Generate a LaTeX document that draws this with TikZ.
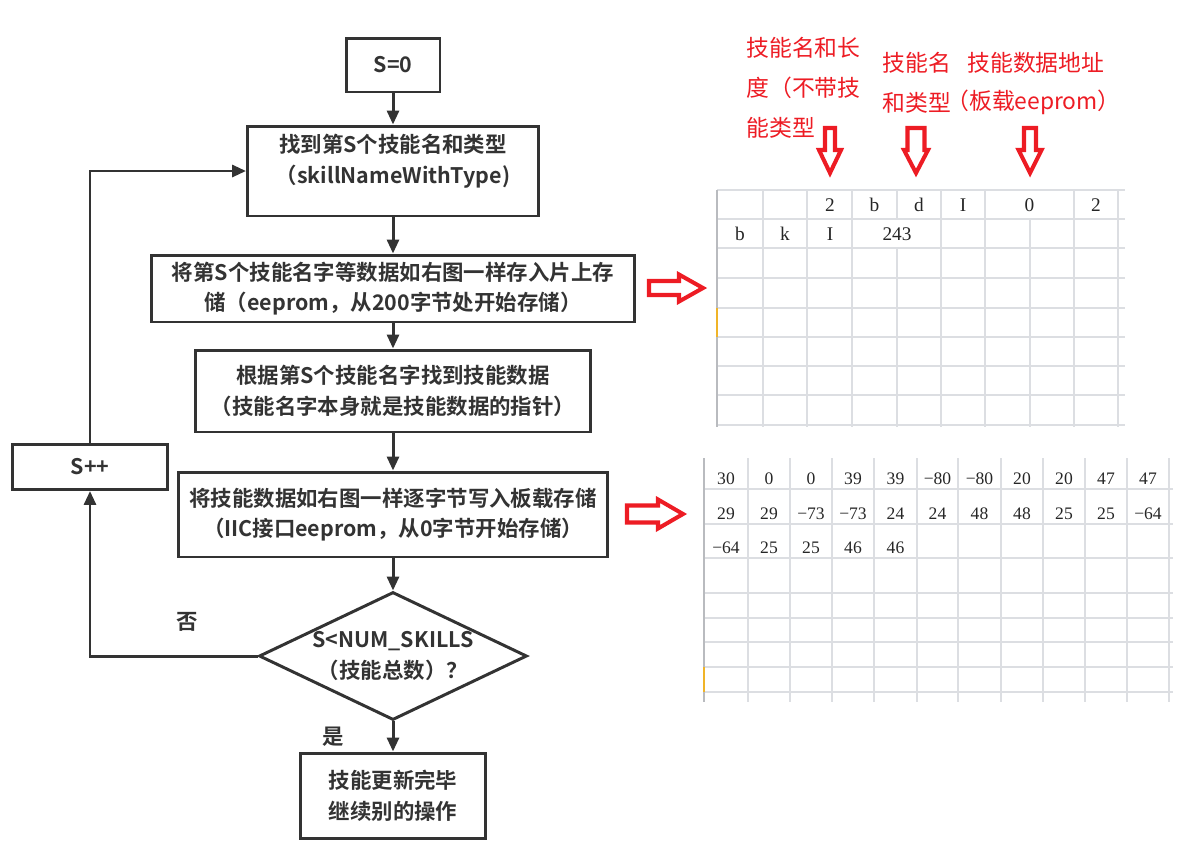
\documentclass[tikz,border=0pt]{standalone}
\usepackage{fontspec}
\usetikzlibrary{shapes.geometric, arrows.meta, positioning}
\newfontfamily\cjk{Noto Sans CJK SC}[BoldFont={* Bold}]
\newfontfamily\cellfont{Liberation Serif}
\definecolor{linegray}{RGB}{51,51,51}
\definecolor{notered}{RGB}{237,28,36}
\definecolor{gridgray}{RGB}{220,222,226}
\definecolor{edgegray}{RGB}{185,187,191}
\definecolor{markyellow}{RGB}{240,180,40}

\begin{document}
\begin{tikzpicture}[x=0.02cm, y=-0.02cm,
        box/.style={draw=linegray, line width=1.7pt, text=linegray, inner sep=0pt,
                    font=\cjk\bfseries\fontsize{12.2}{17.5}\selectfont, align=center},
        decision/.style={box, diamond, aspect=2.1},
        arrow/.style={-{Triangle[length=0.28cm, width=0.24cm]}, line width=1.7pt, draw=linegray},
        tag/.style={text=linegray, font=\cjk\bfseries\fontsize{12.2}{17.5}\selectfont, inner sep=0pt},
        note/.style={text=notered, font=\cjk\fontsize{13}{22.7}\selectfont, align=left, inner sep=0pt, anchor=west},
        hollow/.style={draw=notered, line width=2.3pt, line join=miter},
        cell/.style={font=\cellfont\fontsize{11}{13}\selectfont, text=black!85, inner sep=0pt},
        smallcell/.style={font=\cellfont\fontsize{10}{12}\selectfont, text=black!85, inner sep=0pt},
        gridline/.style={draw=gridgray, line width=0.6pt}
      ]
        \useasboundingbox (0,0) rectangle (1199,849);
        % flow chart
        \node[box, minimum width=1.88cm, minimum height=1.08cm] (start) at (393,65) {S=0};
        \node[box, minimum width=5.82cm, minimum height=1.80cm]
              (find) at (393,171) {找到第S个技能名和类型\\（skillNameWithType)\\[-4pt]\mbox{}};
        \node[box, minimum width=9.66cm, minimum height=1.34cm]
              (store) at (393,288.5) {将第S个技能名字等数据如右图一样存入片上存\\储（eeprom，从200字节处开始存储）};
        \node[box, minimum width=7.90cm, minimum height=1.64cm]
              (lookup) at (393,391) {根据第S个技能名字找到技能数据\\（技能名字本身就是技能数据的指针）};
        \node[box, minimum width=8.60cm, minimum height=1.70cm]
              (write) at (393,514.5) {将技能数据如右图一样逐字节写入板载存储\\（IIC接口eeprom，从0字节开始存储）};
        \node[decision, minimum width=5.36cm, minimum height=2.56cm]
              (check) at (393,656) {S<NUM\_SKILLS\\（技能总数）？};
        \node[box, minimum width=3.72cm, minimum height=1.70cm]
              (done) at (393,795.5) {技能更新完毕\\继续别的操作};
        \node[box, minimum width=3.10cm, minimum height=0.90cm] (inc) at (90,467) {S++};
        \node[tag] (no) at (187,622) {否};
        \node[tag] (yes) at (333,737) {是};

        \draw[arrow] (start) -- (find);
        \draw[arrow] (find) -- (store);
        \draw[arrow] (store) -- (lookup);
        \draw[arrow] (lookup) -- (write);
        \draw[arrow] (write) -- (check);
        \draw[arrow] (check) -- (done);
        \draw[arrow] (check.west) -| (inc.south);
        \draw[arrow] (inc.north) |- (find.west);

        % red notes above the first table
        \node[note] (lenlabel) at (746,88) {技能名和长\\度（不带技\\能类型};
        \node[note] (namelabel) at (882,82.5) {技能名\\和类型};
        \node[note] (addrlabel) at (967,63) {技能数据地址};
        \node[note] (addrnote) at (946,102) {（板载eeprom）};
        \foreach \cx/\sw/\hw in {830/5/11, 916/8.5/12, 1030/6/11.5}
          \draw[hollow] (\cx-\sw,128) -- (\cx+\sw,128) -- (\cx+\sw,150) -- (\cx+\hw,150)
                -- (\cx,173) -- (\cx-\hw,150) -- (\cx-\sw,150) -- cycle;

        % hollow arrows to the tables
        \draw[hollow] (649,281) -- (679,281) -- (679,274.5) -- (703,288) -- (679,301.5)
              -- (679,295) -- (649,295) -- cycle;
        \draw[hollow] (627,505.5) -- (658,505.5) -- (658,499.5) -- (683,514) -- (658,528.5)
              -- (658,522.5) -- (627,522.5) -- cycle;

        % first table (on-chip eeprom)
        \foreach \y in {190,219,248,278,308,337,366,395,425}
          \draw[gridline] (717,\y) -- (1125,\y);
        \foreach \x in {763,807,852,941,985,1074,1118}
          \draw[gridline] (\x,190) -- (\x,427);
        \draw[gridline] (897,190) -- (897,219);
        \draw[gridline] (897,248) -- (897,427);
        \draw[gridline] (1030,219) -- (1030,427);
        \draw[draw=edgegray, line width=1.2pt] (717,190) -- (717,427);
        \draw[draw=markyellow, line width=1.6pt] (717,308) -- (717,337);
        \foreach \x/\t in {830/2, 874.5/b, 919/d, 963/I, 1029.5/0, 1096/2}
          \node[cell] at (\x,205) {\t};
        \foreach \x/\t in {740/b, 785/k, 830/I, 897/243}
          \node[cell] at (\x,234) {\t};

        % second table (board eeprom)
        \foreach \y in {489,524,558,618,642,692}
          \draw[gridline] (704,\y) -- (1173,\y);
        \foreach \y in {593,667}
          \draw[draw=gridgray, line width=1.3pt] (704,\y) -- (1173,\y);
        \foreach \x in {748,790,832,874,917,958,1001,1043,1085,1127,1169}
          \draw[gridline] (\x,458) -- (\x,702);
        \draw[draw=edgegray, line width=1.2pt] (704,458) -- (704,702);
        \draw[draw=markyellow, line width=1.6pt] (704,667) -- (704,692);
        \foreach \x/\t in {726/30, 769/0, 811/0, 853/39, 895.5/39, 937.5/−80, 979.5/−80,
                           1022/20, 1064/20, 1106/47, 1148/47}
          \node[smallcell] at (\x,479) {\t};
        \foreach \x/\t in {726/29, 769/29, 811/−73, 853/−73, 895.5/24, 937.5/24, 979.5/48,
                           1022/48, 1064/25, 1106/25, 1148/−64}
          \node[smallcell] at (\x,514) {\t};
        \foreach \x/\t in {726/−64, 769/25, 811/25, 853/46, 895.5/46}
          \node[smallcell] at (\x,548) {\t};
      \end{tikzpicture}
\end{document}
